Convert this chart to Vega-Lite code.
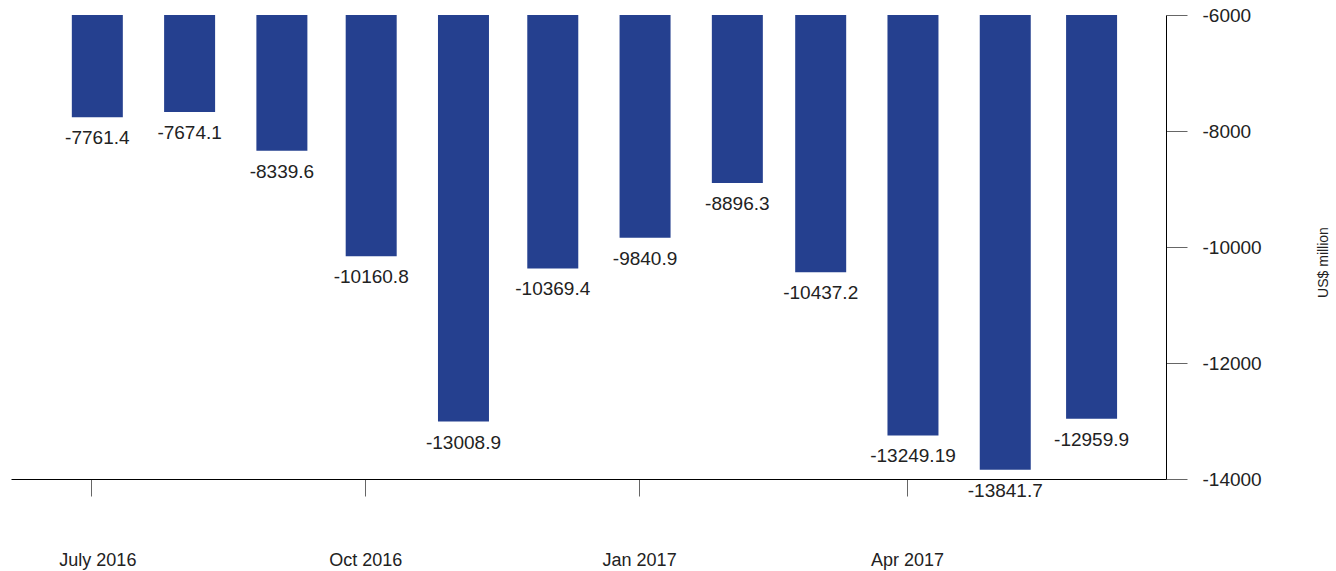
{
  "$schema": "https://vega.github.io/schema/vega-lite/v6.json",
  "autosize": {"type": "none"},
  "width": 1155,
  "height": 464,
  "padding": {"left": 11, "top": 15, "right": 170, "bottom": 92},
  "background": "white",
  "config": {
    "view": {"stroke": null},
    "font": "Liberation Sans, sans-serif"
  },
  "data": {
    "values": [
      {"month": "2016-07-03", "value": -7761.4},
      {"month": "2016-08-03", "value": -7674.1},
      {"month": "2016-09-03", "value": -8339.6},
      {"month": "2016-10-03", "value": -10160.8},
      {"month": "2016-11-03", "value": -13008.9},
      {"month": "2016-12-03", "value": -10369.4},
      {"month": "2017-01-03", "value": -9840.9},
      {"month": "2017-02-03", "value": -8896.3},
      {"month": "2017-03-03", "value": -10437.2},
      {"month": "2017-04-03", "value": -13249.19},
      {"month": "2017-05-04", "value": -13841.7},
      {"month": "2017-06-02", "value": -12959.9}
    ]
  },
  "layer": [
    {
      "mark": {"type": "bar", "color": "#25408F", "size": 51},
      "encoding": {
        "x": {
          "field": "month",
          "type": "temporal",
          "scale": {
            "type": "utc",
            "padding": 0,
            "domain": [
              {"year": 2016, "month": 6, "date": 4, "utc": true},
              {"year": 2017, "month": 6, "date": 27, "utc": true}
            ]
          },
          "axis": {
            "orient": "bottom",
            "title": null,
            "grid": false,
            "values": [
              {"year": 2016, "month": 7, "date": 1, "utc": true},
              {"year": 2016, "month": 10, "date": 1, "utc": true},
              {"year": 2017, "month": 1, "date": 1, "utc": true},
              {"year": 2017, "month": 4, "date": 1, "utc": true}
            ],
            "format": "%b %Y",
            "labelExpr": "datum.label == 'Jul 2016' ? 'July 2016' : datum.label",
            "labelOffset": {"condition": {"test": "utcmonth(datum.value) == 6", "value": 6}, "value": 0},
            "tickSize": 17,
            "tickColor": "#666666",
            "domainColor": "#000000",
            "labelFontSize": 18,
            "labelColor": "#222222",
            "labelPadding": 55,
            "labelFlush": false,
            "labelOverlap": false
          }
        },
        "y": {
          "field": "value",
          "type": "quantitative",
          "scale": {"domain": [-14000, -6000], "nice": false, "zero": false, "padding": 0},
          "axis": {
            "orient": "right",
            "grid": false,
            "values": [-6000, -8000, -10000, -12000, -14000],
            "labelExpr": "'' + datum.value",
            "tickSize": 21,
            "tickColor": "#666666",
            "domainColor": "#000000",
            "labelFontSize": 19,
            "labelColor": "#222222",
            "labelPadding": 15,
            "labelFlush": false,
            "labelOverlap": false,
            "title": "US$ million",
            "titleFontSize": 14,
            "titleFontWeight": "normal",
            "titleColor": "#222222",
            "titleAngle": 270,
            "titleAlign": "center",
            "titleBaseline": "middle",
            "titleX": 157,
            "titleY": 247
          }
        },
        "y2": {"datum": -6000}
      }
    },
    {
      "mark": {"type": "text", "baseline": "middle", "dy": 21, "fontSize": 19, "color": "#222222"},
      "encoding": {
        "x": {"field": "month", "type": "temporal"},
        "y": {"field": "value", "type": "quantitative"},
        "text": {"field": "value", "type": "nominal"}
      }
    }
  ]
}
